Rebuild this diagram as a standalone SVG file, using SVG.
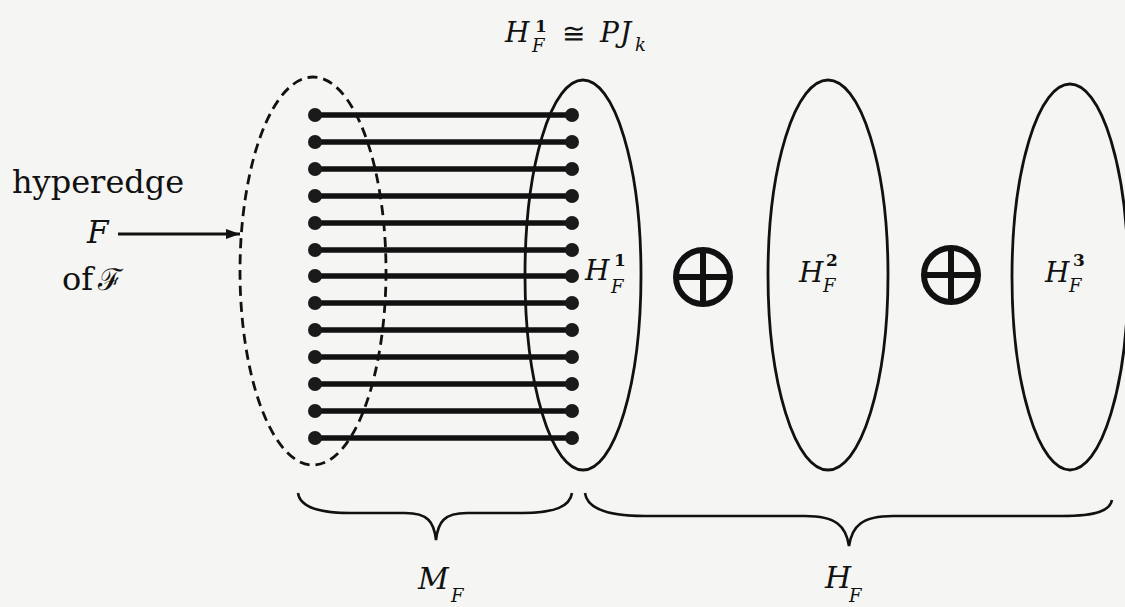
<svg xmlns="http://www.w3.org/2000/svg" width="1125" height="607" viewBox="0 0 1125 607">
<defs>
<style>
.bg{fill:#f5f5f3}
.ell{fill:none;stroke:#111;stroke-width:2.8}
.dash{fill:none;stroke:#111;stroke-width:2.8;stroke-dasharray:10 6}
.edge{stroke:#111;stroke-width:5.5;stroke-linecap:round}
.dot{fill:#1a1a1a}
.brace{fill:none;stroke:#111;stroke-width:2.6}
.op{fill:none;stroke:#111;stroke-width:6}
.txt{font-family:"DejaVu Serif","Liberation Serif",serif;fill:#111}
.m{font-family:"DejaVu Serif","Liberation Serif",serif;font-style:italic;fill:#111}
.n{font-family:"DejaVu Serif","Liberation Serif",serif;fill:#111;font-weight:bold}
</style>
<marker id="arrow" viewBox="0 0 14 10" refX="14" refY="5" markerWidth="14" markerHeight="10" markerUnits="userSpaceOnUse" orient="auto">
<path d="M0,0 L14,5 L0,10 z" fill="#111"/>
</marker>
</defs>
<rect class="bg" x="0" y="0" width="1125" height="607"/>

<g id="hyperedge-F">
<ellipse class="dash" cx="313" cy="271" rx="73" ry="194"/>
</g>
<g id="H1">
<ellipse class="ell" cx="583" cy="275" rx="58" ry="195"/>
</g>
<g id="H2">
<ellipse class="ell" cx="828" cy="275" rx="60" ry="195"/>
</g>
<g id="H3">
<ellipse class="ell" cx="1070" cy="277" rx="58" ry="193"/>
</g>

<g id="connectors">
<line class="edge" x1="315" y1="115" x2="572" y2="115"/>
<line class="edge" x1="315" y1="142" x2="572" y2="142"/>
<line class="edge" x1="315" y1="169" x2="572" y2="169"/>
<line class="edge" x1="315" y1="196" x2="572" y2="196"/>
<line class="edge" x1="315" y1="223" x2="572" y2="223"/>
<line class="edge" x1="315" y1="250" x2="572" y2="250"/>
<line class="edge" x1="315" y1="276" x2="572" y2="276"/>
<line class="edge" x1="315" y1="303" x2="572" y2="303"/>
<line class="edge" x1="315" y1="330" x2="572" y2="330"/>
<line class="edge" x1="315" y1="357" x2="572" y2="357"/>
<line class="edge" x1="315" y1="384" x2="572" y2="384"/>
<line class="edge" x1="315" y1="411" x2="572" y2="411"/>
<line class="edge" x1="315" y1="438" x2="572" y2="438"/>
<g class="dot">
<circle cx="315" cy="115" r="7"/><circle cx="572" cy="115" r="7"/>
<circle cx="315" cy="142" r="7"/><circle cx="572" cy="142" r="7"/>
<circle cx="315" cy="169" r="7"/><circle cx="572" cy="169" r="7"/>
<circle cx="315" cy="196" r="7"/><circle cx="572" cy="196" r="7"/>
<circle cx="315" cy="223" r="7"/><circle cx="572" cy="223" r="7"/>
<circle cx="315" cy="250" r="7"/><circle cx="572" cy="250" r="7"/>
<circle cx="315" cy="276" r="7"/><circle cx="572" cy="276" r="7"/>
<circle cx="315" cy="303" r="7"/><circle cx="572" cy="303" r="7"/>
<circle cx="315" cy="330" r="7"/><circle cx="572" cy="330" r="7"/>
<circle cx="315" cy="357" r="7"/><circle cx="572" cy="357" r="7"/>
<circle cx="315" cy="384" r="7"/><circle cx="572" cy="384" r="7"/>
<circle cx="315" cy="411" r="7"/><circle cx="572" cy="411" r="7"/>
<circle cx="315" cy="438" r="7"/><circle cx="572" cy="438" r="7"/>
</g>
<line x1="118" y1="234" x2="240" y2="234" stroke="#111" stroke-width="2.8" marker-end="url(#arrow)"/>
</g>

<g id="oplus1">
<circle class="op" cx="703" cy="277" r="27"/>
<line class="op" x1="676" y1="277" x2="730" y2="277" stroke-width="5"/>
<line class="op" x1="703" y1="250" x2="703" y2="304" stroke-width="5"/>
</g>
<g id="oplus2">
<circle class="op" cx="951" cy="275" r="27"/>
<line class="op" x1="924" y1="275" x2="978" y2="275" stroke-width="5"/>
<line class="op" x1="951" y1="248" x2="951" y2="302" stroke-width="5"/>
</g>

<g id="brace-MF">
<path class="brace" d="M298,493 C300,507 318,513 350,513 L405,513 C428,513 434,522 436,540 C438,522 444,513 467,513 L522,513 C556,513 570,506 572,493"/>
</g>
<g id="brace-HF">
<path class="brace" d="M585,493 C587,508 606,516 645,516 L805,516 C836,516 846,526 849,546 C852,526 862,516 893,516 L1062,516 C1098,516 1110,510 1112,500"/>
</g>

<g id="labels">
<text class="txt" x="12" y="193" font-size="32">hyperedge</text>
<text class="m" x="87" y="243" font-size="31">F</text>
<text class="txt" x="62" y="290" font-size="32">of</text>
<text class="txt" x="98" y="290" font-size="30">ℱ</text>

<text class="m" x="505" y="42" font-size="28">H</text>
<text class="n" x="535" y="32" font-size="17">1</text>
<text class="m" x="532" y="52" font-size="18">F</text>
<text class="txt" x="562" y="43" font-size="28">≅</text>
<text class="m" x="600" y="42" font-size="28">P</text>
<text class="m" x="620" y="42" font-size="28">J</text>
<text class="m" x="635" y="51" font-size="18">k</text>

<text class="m" x="585" y="280" font-size="28">H</text>
<text class="n" x="614" y="266" font-size="17">1</text>
<text class="m" x="611" y="293" font-size="18">F</text>

<text class="m" x="799" y="282" font-size="28">H</text>
<text class="n" x="826" y="266" font-size="17">2</text>
<text class="m" x="823" y="292" font-size="18">F</text>

<text class="m" x="1045" y="282" font-size="28">H</text>
<text class="n" x="1073" y="266" font-size="17">3</text>
<text class="m" x="1069" y="292" font-size="18">F</text>

<text class="m" x="418" y="589" font-size="30">M</text>
<text class="m" x="451" y="602" font-size="18">F</text>

<text class="m" x="825" y="588" font-size="30">H</text>
<text class="m" x="849" y="602" font-size="18">F</text>
</g>
</svg>
